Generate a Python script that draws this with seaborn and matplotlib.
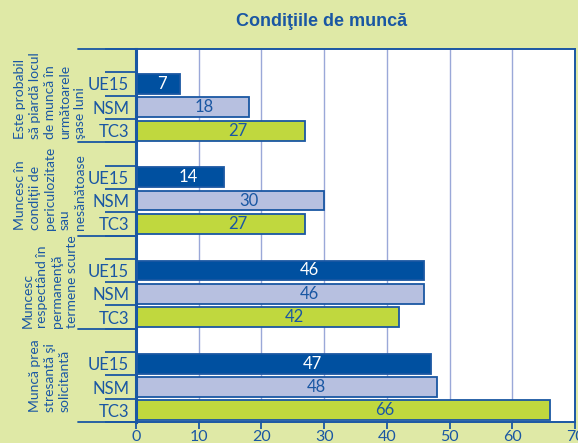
import numpy as np
import pandas as pd
import matplotlib
matplotlib.use("Agg")
import matplotlib.pyplot as plt
import matplotlib.transforms as mtransforms
import seaborn as sns

# data
groups = [
    "Este probabil\nsă piardă locul\nde muncă în\nurmătoarele\nşase luni",
    "Muncesc în\ncondiţii de\npericulozitate\nsau\nnesănătoase",
    "Muncesc\nrespectând în\npermanenţă\ntermene scurte",
    "Muncă prea\nstresantă şi\nsolicitantă",
]
series = ["UE15", "NSM", "TC3"]
ue15 = [7, 14, 46, 47]
nsm = [18, 30, 46, 48]
tc3 = [27, 27, 42, 66]
xticks = [0, 10, 20, 30, 40, 50, 60, 70]

BG = "#dfe9a6"
BLUE = "#1a57a3"
colors = {"UE15": "#0050a0", "NSM": "#b7c0e0", "TC3": "#c0d83e"}
text_colors = {"UE15": "white", "NSM": BLUE, "TC3": BLUE}

rows = []
order = []
for g in range(len(groups)):
    order.append(f"g{g}_gap")
    for s, vals in zip(series, [ue15, nsm, tc3]):
        key = f"g{g}_{s}"
        order.append(key)
        rows.append({"row": key, "series": s, "value": vals[g]})
df = pd.DataFrame(rows)

sns.set_style("white")
plt.rcParams["font.family"] = ["Lato", "DejaVu Sans"]

fig = plt.figure(figsize=(5.78, 4.43), dpi=100, facecolor=BG)
ax = fig.add_axes([136 / 578, 1 - 422 / 443, (575 - 136) / 578, (422 - 49) / 443])
ax.set_facecolor("white")

sns.barplot(data=df, x="value", y="row", order=order, hue="series",
            palette=colors, saturation=1, dodge=False, width=0.85,
            legend=False, edgecolor=BLUE, linewidth=1.3, ax=ax)

# value labels inside bars
for _, r in df.iterrows():
    ax.text(r["value"] * 0.6, order.index(r["row"]), str(r["value"]),
            ha="center", va="center", fontsize=12,
            color=text_colors[r["series"]])

ax.set_xlim(0, 70)
ax.set_ylim(len(order) - 0.5, -0.5)
ax.set_xticks(xticks)
ax.set_xticklabels([str(t) for t in xticks], color=BLUE, fontsize=11.5)
ax.tick_params(axis="x", bottom=True, direction="out", length=5, width=1.3,
               color=BLUE, pad=1)
ax.xaxis.grid(True, color="#9aa8d8", linewidth=1)
ax.set_axisbelow(True)

ylabels = ["" if k.endswith("gap") else k.split("_")[1] for k in order]
ax.set_yticks(range(len(order)))
ax.set_yticklabels(ylabels, color=BLUE, fontsize=12)
ax.tick_params(axis="y", which="major", left=True, length=0, pad=5)
ax.set_yticks(np.arange(len(order) + 1) - 0.5, minor=True)
ax.tick_params(axis="y", which="minor", left=True, length=22, width=1.3,
               color=BLUE)
ax.set_xlabel("")
ax.set_ylabel("")

for side in ["top", "right", "bottom"]:
    ax.spines[side].set_color(BLUE)
    ax.spines[side].set_linewidth(1.4)
ax.spines["left"].set_color(BLUE)
ax.spines["left"].set_linewidth(2.2)

# group separators and group labels
trans = mtransforms.blended_transform_factory(fig.transFigure, ax.transData)
for g in range(len(groups) + 1):
    ax.plot([78 / 578, 136 / 578], [g * 4 - 0.5] * 2, color=BLUE, lw=1.3,
            transform=trans, clip_on=False)
for g, label in enumerate(groups):
    ax.text(50 / 578, g * 4 + 1.5, label, transform=trans, rotation=90,
            ha="center", va="center", multialignment="left",
            fontsize=10, color=BLUE, linespacing=1.3)

fig.text(322 / 578, 1 - 22 / 443, "Condiţiile de muncă", ha="center",
         va="center", fontsize=13, fontweight="bold", color=BLUE,
         family=["Liberation Sans", "DejaVu Sans"])

fig.savefig("out.png", dpi=100, facecolor=BG)
